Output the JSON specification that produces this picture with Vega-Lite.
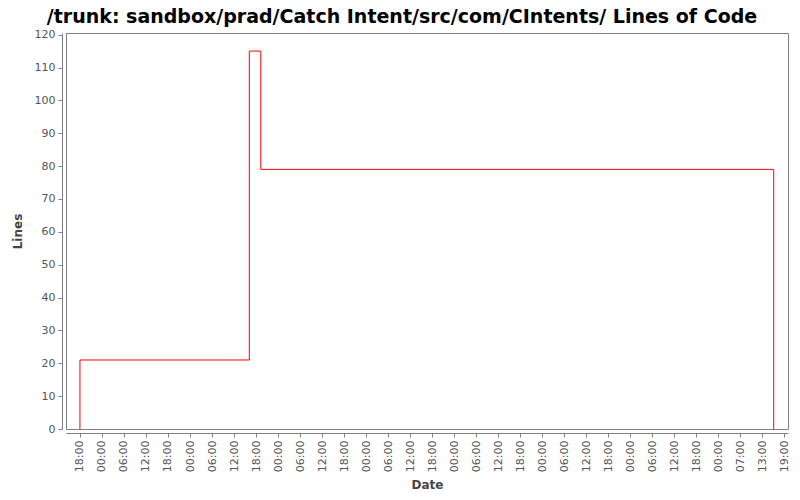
{
  "$schema": "https://vega.github.io/schema/vega-lite/v6.json",
  "autosize": {"type": "none"},
  "width": 722,
  "height": 396,
  "padding": {"left": 66, "top": 33, "right": 12, "bottom": 71},
  "background": "white",
  "title": {
    "text": "/trunk: sandbox/prad/Catch Intent/src/com/CIntents/ Lines of Code",
    "font": "DejaVu Sans",
    "fontSize": 19,
    "fontWeight": "bold",
    "color": "#000000",
    "anchor": "middle",
    "dx": -25,
    "offset": 2
  },
  "config": {
    "view": {"stroke": "#808080", "strokeWidth": 1},
    "axis": {
      "labelFont": "DejaVu Sans",
      "labelFontSize": 11,
      "labelColor": "#555555",
      "titleFont": "DejaVu Sans",
      "titleFontSize": 12,
      "titleFontWeight": "bold",
      "titleColor": "#444444",
      "domainColor": "#808080",
      "tickColor": "#808080",
      "grid": false,
      "offset": 4,
      "tickSize": 4
    }
  },
  "data": {
    "values": [
      {"date": "2008-03-02T18:00:00Z", "lines": 0},
      {"date": "2008-03-02T18:00:00Z", "lines": 21},
      {"date": "2008-03-04T16:10:00Z", "lines": 115},
      {"date": "2008-03-04T19:18:00Z", "lines": 79},
      {"date": "2008-03-10T15:06:00Z", "lines": 0}
    ]
  },
  "mark": {"type": "line", "interpolate": "step-after", "color": "#ff0000", "strokeWidth": 1},
  "encoding": {
    "x": {
      "field": "date",
      "type": "temporal",
      "title": "Date",
      "scale": {
        "type": "utc",
        "domain": [
          {"year": 2008, "month": 3, "date": 2, "hours": 14, "minutes": 12, "utc": true},
          {"year": 2008, "month": 3, "date": 10, "hours": 19, "minutes": 0, "utc": true}
        ],
        "nice": false
      },
      "axis": {
        "values": [1204480800000, 1204502400000, 1204524000000, 1204545600000, 1204567200000, 1204588800000, 1204610400000, 1204632000000, 1204653600000, 1204675200000, 1204696800000, 1204718400000, 1204740000000, 1204761600000, 1204783200000, 1204804800000, 1204826400000, 1204848000000, 1204869600000, 1204891200000, 1204912800000, 1204934400000, 1204956000000, 1204977600000, 1204999200000, 1205020800000, 1205042400000, 1205064000000, 1205085600000, 1205107200000, 1205128800000, 1205150400000, 1205172000000],
        "format": "%H:%M",
        "labelExpr": "datum.value > 1205110000000 ? (utchours(datum.value) < 9 ? '0' : '') + (utchours(datum.value) + 1) + ':00' : datum.label",
        "labelAngle": 270,
        "labelPadding": 3,
        "labelOverlap": false,
        "titlePadding": 8
      }
    },
    "y": {
      "field": "lines",
      "type": "quantitative",
      "title": "Lines",
      "scale": {"domain": [0, 120.5], "nice": false},
      "axis": {
        "values": [0, 10, 20, 30, 40, 50, 60, 70, 80, 90, 100, 110, 120],
        "labelPadding": 3,
        "titlePadding": 10
      }
    }
  }
}
